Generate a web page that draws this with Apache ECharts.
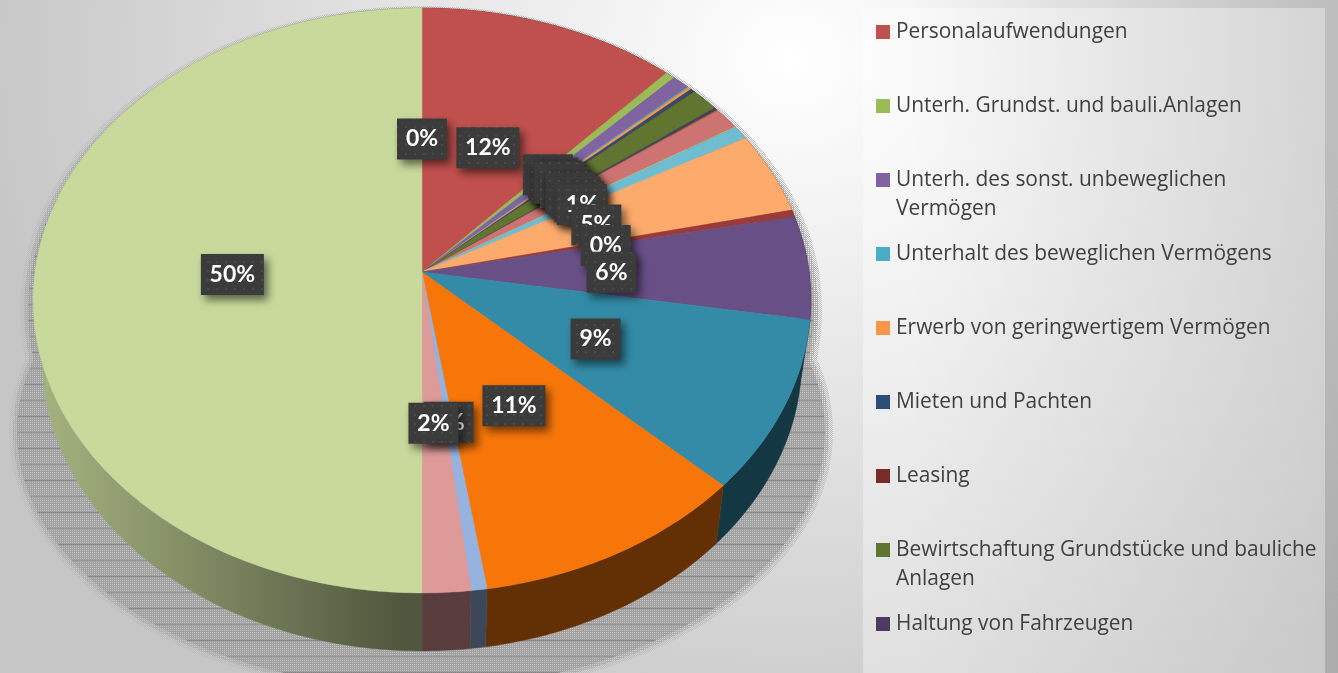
<!DOCTYPE html>
<html><head><meta charset="utf-8">
<style>html,body{margin:0;padding:0;width:1338px;height:673px;overflow:hidden}
body{background:linear-gradient(to right,rgba(0,0,0,0) 68%,rgba(0,0,0,0.13) 100%),radial-gradient(ellipse 820px 740px at 790px 60px,#ffffff 0%,#c6c6c6 100%)}
#c{width:1338px;height:673px}</style>
<script src="https://cdn.jsdelivr.net/npm/echarts@6/dist/echarts.min.js"></script>
</head><body><div id="c"></div>
<script>
const categories=["Personalaufwendungen","Unterh. Grundst. und bauli.Anlagen","Unterh. des sonst. unbeweglichen\nVermögen","Unterhalt des beweglichen Vermögens","Erwerb von geringwertigem Vermögen","Mieten und Pachten","Leasing","Bewirtschaftung Grundstücke und bauliche\nAnlagen","Haltung von Fahrzeugen","s10","s11","s12","s13","s14","s15","s16","s17","s18","s19","s20","s21","s22","s23"];
const values=[11.82,0.45,0.78,0.07,0.15,0.18,0.02,1.31,0.12,0.03,0.04,1.2,0.04,0.75,4.54,0.39,5.71,9.46,10.51,0.6,1.83,50,0];
const colors=["#C0504D","#9BBB59","#8064A2","#4BACC6","#F79646","#2C4D75","#772C2A","#5F7530","#4D3B62","#276A7C","#B65708","#CD7371","#AFC97A","#6FBDD1","#FCAB6C","#9C3A38","#684F86","#338BA8","#F7760A","#95B3DE","#DE9999","#C8D99B","#C8D99B"];
const legendCount=9;

const G={cx:422,cy:272,a:387,b:289.7,k:0.0974,depth:58,shrink:0.977,labelR:0.49,labelDy:2.5};
function project(pct,r){
  const t=pct/100*Math.PI*2,u=r*Math.sin(t),v=-r*Math.cos(t),d=1-G.k*v;
  return [G.cx+G.a*u/d,G.cy+G.b*v/d];
}
function lower(p){return [G.cx+(p[0]-G.cx)*G.shrink,p[1]+G.depth];}
function scaleHex(h,f){
  const n=parseInt(h.slice(1),16);
  return 'rgb('+[(n>>16)&255,(n>>8)&255,n&255].map(c=>Math.round(c*f)).join(',')+')';
}
function tile(w,h,fn){
  const c=document.createElement('canvas');c.width=w;c.height=h;
  const x=c.getContext('2d');
  for(let i=0;i<w;i++)for(let j=0;j<h;j++){const s=fn(i,j);if(s){x.fillStyle=s;x.fillRect(i,j,1,1);}}
  return {image:c,repeat:'repeat'};
}
const shadowFaint=tile(4,4,(i,j)=>(i+j)%2?'#bdbdbd':null);
const shadowMid=tile(2,2,(i,j)=>(i===0&&j===0)?null:'#b0b0b0');
const shadowInner=tile(32,32,(i,j)=>{
  if(j%32===0)return i%2?'#808080':'#949494';
  if(j%16===0)return i%2?'#8f8f8f':'#a0a0a0';
  return (i%2===0&&j%2===0)?'#c4c4c4':'#a0a0a0';
});
const boxFill=tile(9,9,(i,j)=>(i%9<2&&j%9<2)?'#4a4a4a':'#3b3b3b');

let start=0;
const seriesList=categories.map((name,i)=>{
  const s0=start;start+=values[i];
  return {
    type:'custom',name,coordinateSystem:'none',silent:true,animation:false,z:6,
    itemStyle:{color:colors[i]},
    data:[[values[i],s0]],
    renderItem:(params,api)=>renderSlice(i,api.value(0),api.value(1))
  };
});

function renderSlice(i,val,s0){
  const color=colors[i];
  const children=[];
  const steps=Math.max(1,Math.ceil(val*5));
  const arc=[];
  for(let n=0;n<=steps;n++)arc.push(project(s0+val*n/steps,1));
  if(val>0){
    const fill=color;
    children.push({type:'polygon',z2:2,shape:{points:[[G.cx,G.cy]].concat(arc)},
      style:{fill,stroke:fill,lineWidth:0.4}});
    const wall={type:'linear',global:true,x:G.cx-380,y:0,x2:G.cx-20,y2:0,
      colorStops:[{offset:0,color:scaleHex(color,0.82)},{offset:1,color:scaleHex(color,0.4)}]};
    children.push({type:'polygon',z2:1,shape:{points:arc.concat(arc.map(lower).reverse())},
      style:{fill:wall,stroke:wall,lineWidth:0.4}});
  }
  const c=project(s0+val/2,G.labelR);
  const cy=c[1]+G.labelDy;
  const txt=Math.round(val)+'%';
  const w=txt.length===3?63:50,h=41;
  children.push({type:'rect',z2:10+i*2,shape:{x:c[0]-w/2,y:cy-h/2,width:w,height:h},
    style:{fill:boxFill,shadowBlur:9,shadowOffsetX:4,shadowOffsetY:5,shadowColor:'rgba(0,0,0,0.55)'}});
  children.push({type:'text',z2:11+i*2,style:{text:txt,x:c[0],y:cy,align:'center',verticalAlign:'middle',
    fill:'#fff',font:'bold 23px Lato'}});
  return {type:'group',children};
}

const lineH=29;
const legends=categories.slice(0,legendCount).map((name,i)=>{
  const wrapped=name.includes('\n');
  const lines=wrapped?3:1;
  return {
    data:[name],left:876,top:32+74*i-lines*lineH/2,orient:'vertical',icon:'rect',
    itemWidth:14,itemHeight:14,itemGap:0,padding:0,selectedMode:false,
    formatter:n=>wrapped?' \n'+n:n,
    textStyle:{fontFamily:'Open Sans',fontSize:20.9,color:'#404040',lineHeight:lineH,padding:[0,0,0,1]}
  };
});

const ellipse=(cx,cy,rx,ry,fill,z)=>({type:'ellipse',silent:true,z,shape:{cx,cy,rx,ry},style:{fill}});
const rings=[[0,shadowFaint],[4,shadowMid],[8,shadowInner]];
const chart=echarts.init(document.getElementById('c'),null,{renderer:'canvas'});
chart.setOption({
  animation:false,
  backgroundColor:'transparent',
  legend:legends,
  graphic:[
    {type:'rect',silent:true,z:0,shape:{x:863,y:8,width:462,height:665},style:{fill:'rgba(255,255,255,0.35)'}}
  ].concat(rings.flatMap(([d,f],n)=>[
    ellipse(421,310,401-d,304-d,f,n),
    ellipse(421,432,412-d,264-d,f,n)
  ])),
  series:seriesList
});
</script></body></html>
